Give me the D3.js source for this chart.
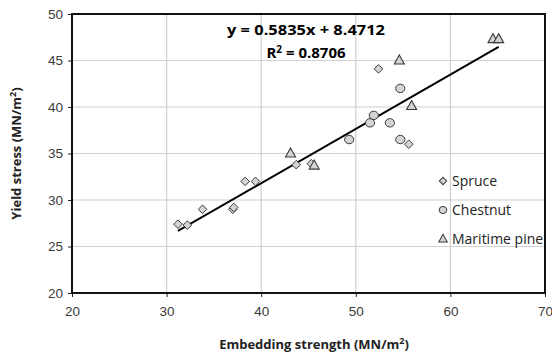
<!DOCTYPE html>
<html>
<head>
    <title>Embedding strength vs yield stress</title>
    <script src="https://d3js.org/d3.v7.min.js"></script>
    <style>
        body { margin: 0; background: #fff; }
        text { font-family: "Liberation Sans", Arial, sans-serif; }
    </style>
</head>
<body>
    <svg id="chart" width="552" height="363"></svg>

    <script>
        // data: [embedding strength, yield stress]
        var spruce = [[31.2, 27.4], [32.2, 27.3], [33.8, 29.0], [37.0, 29.0], [37.1, 29.2],
                      [38.3, 32.0], [39.4, 32.0], [43.7, 33.8], [45.3, 33.9], [52.4, 44.1], [55.6, 36.0]]
        var chestnut = [[49.3, 36.5], [51.5, 38.3], [51.9, 39.1], [53.6, 38.3], [54.7, 42.0], [54.7, 36.5]]
        var pine = [[43.1, 35.0], [45.6, 33.7], [54.6, 45.0], [55.9, 40.1], [64.5, 47.3], [65.1, 47.3]]
        var xTicks = [20, 30, 40, 50, 60, 70]
        var yTicks = [20, 25, 30, 35, 40, 45, 50]
        var slope = 0.5835, intercept = 8.4712, r2 = 0.8706
        var fitRange = [31.2, 65.1]

        var svg = d3.select("#chart")
        var pLeft = 72, pRight = 545, pTop = 14, pBottom = 293

        var x = d3.scaleLinear([20, 70], [pLeft, pRight])
        var y = d3.scaleLinear([20, 50], [pBottom, pTop])

        // grid
        svg.append("g").selectAll("line").data(xTicks).enter()
            .append("line")
            .attr("x1", d => x(d)).attr("x2", d => x(d))
            .attr("y1", pTop).attr("y2", pBottom)
            .attr("stroke", "#d0d0d0").attr("stroke-width", 1.2)
        svg.append("g").selectAll("line").data(yTicks).enter()
            .append("line")
            .attr("x1", pLeft).attr("x2", pRight)
            .attr("y1", d => y(d)).attr("y2", d => y(d))
            .attr("stroke", "#d0d0d0").attr("stroke-width", 1.2)

        // axes
        var xAxis = svg.append("g")
            .attr("transform", "translate(0," + pBottom + ")")
            .call(d3.axisBottom(x).tickValues(xTicks).tickSize(4).tickPadding(9))
        var yAxis = svg.append("g")
            .attr("transform", "translate(" + pLeft + ",0)")
            .call(d3.axisLeft(y).tickValues(yTicks).tickSize(4).tickPadding(5))
        ;[xAxis, yAxis].forEach(g => {
            g.select(".domain").remove()
            g.selectAll("line").attr("stroke", "#222")
            g.selectAll("text").style("font-size", "13.5px").attr("fill", "#3a3a3a")
                .style("font-family", "'Liberation Sans', Arial, sans-serif")
        })

        // plot frame
        svg.append("rect")
            .attr("x", pLeft).attr("y", pTop)
            .attr("width", pRight - pLeft).attr("height", pBottom - pTop)
            .attr("fill", "none").attr("stroke", "#111").attr("stroke-width", 2)

        // trend line
        svg.append("line")
            .attr("x1", x(fitRange[0])).attr("y1", y(slope * fitRange[0] + intercept))
            .attr("x2", x(fitRange[1])).attr("y2", y(slope * fitRange[1] + intercept))
            .attr("stroke", "#000").attr("stroke-width", 2)

        var fill = "#d4d4d4", stroke = "#3a3a3a"
        var diamond = "M0,-4.3L4.3,0L0,4.3L-4.3,0Z"
        var triangle = "M0,-5.5L5,3.5L-5,3.5Z"

        svg.append("g").selectAll("path").data(spruce).enter()
            .append("path")
            .attr("d", diamond)
            .attr("transform", d => "translate(" + x(d[0]) + "," + y(d[1]) + ")")
            .attr("fill", fill).attr("stroke", stroke).attr("stroke-width", 1)
        svg.append("g").selectAll("ellipse").data(chestnut).enter()
            .append("ellipse")
            .attr("cx", d => x(d[0])).attr("cy", d => y(d[1]))
            .attr("rx", 4.6).attr("ry", 4.2)
            .attr("fill", fill).attr("stroke", stroke).attr("stroke-width", 1)
        svg.append("g").selectAll("path").data(pine).enter()
            .append("path")
            .attr("d", triangle)
            .attr("transform", d => "translate(" + x(d[0]) + "," + y(d[1]) + ")")
            .attr("fill", fill).attr("stroke", stroke).attr("stroke-width", 1.1)

        // equation
        svg.append("text")
            .attr("x", 306).attr("y", 35)
            .attr("text-anchor", "middle")
            .style("font-family", "'Open Sans', sans-serif")
            .style("font-weight", "bold").style("font-size", "14px")
            .attr("textLength", 158).attr("lengthAdjust", "spacingAndGlyphs")
            .text("y = " + slope + "x + " + intercept)
        var eq2 = svg.append("text")
            .attr("x", 306).attr("y", 58)
            .attr("text-anchor", "middle")
            .style("font-family", "'Open Sans', sans-serif")
            .style("font-weight", "bold").style("font-size", "15px")
        eq2.append("tspan").text("R")
        eq2.append("tspan").attr("dy", -5).style("font-size", "10px").text("2")
        eq2.append("tspan").attr("dy", 5).text(" = " + r2)

        // legend
        var legend = [["Spruce", "diamond"], ["Chestnut", "circle"], ["Maritime pine", "triangle"]]
        var lg = svg.append("g").selectAll("g").data(legend).enter()
            .append("g")
            .attr("transform", (d, i) => "translate(443," + (181 + i * 29) + ")")
        lg.each(function (d) {
            var g = d3.select(this)
            if (d[1] == "circle") {
                g.append("ellipse").attr("rx", 3.8).attr("ry", 3.6)
                    .attr("fill", fill).attr("stroke", stroke)
            } else {
                g.append("path").attr("d", d[1] == "diamond" ? diamond : triangle)
                    .attr("transform", "scale(0.85)")
                    .attr("fill", fill).attr("stroke", stroke).attr("stroke-width", 1.2)
            }
        })
        lg.append("text")
            .attr("x", 9).attr("y", 5)
            .style("font-family", "'Open Sans', sans-serif")
            .style("font-size", "14px").attr("fill", "#222")
            .text(d => d[0])

        // axis titles
        var xt = svg.append("text")
            .attr("x", 314).attr("y", 349)
            .attr("text-anchor", "middle")
            .style("font-family", "'Open Sans', sans-serif")
            .style("font-weight", "bold").style("font-size", "13px").attr("fill", "#222")
        xt.append("tspan").text("Embedding strength (MN/m")
        xt.append("tspan").attr("dy", -5).style("font-size", "9px").text("2")
        xt.append("tspan").attr("dy", 5).text(")")

        var yt = svg.append("text")
            .attr("transform", "translate(21," + ((pTop + pBottom) / 2) + ") rotate(-90)")
            .attr("text-anchor", "middle")
            .style("font-family", "'Open Sans', sans-serif")
            .style("font-weight", "bold").style("font-size", "13px").attr("fill", "#222")
        yt.append("tspan").text("Yield stress (MN/m")
        yt.append("tspan").attr("dy", -5).style("font-size", "9px").text("2")
        yt.append("tspan").attr("dy", 5).text(")")
    </script>
</body>
</html>
